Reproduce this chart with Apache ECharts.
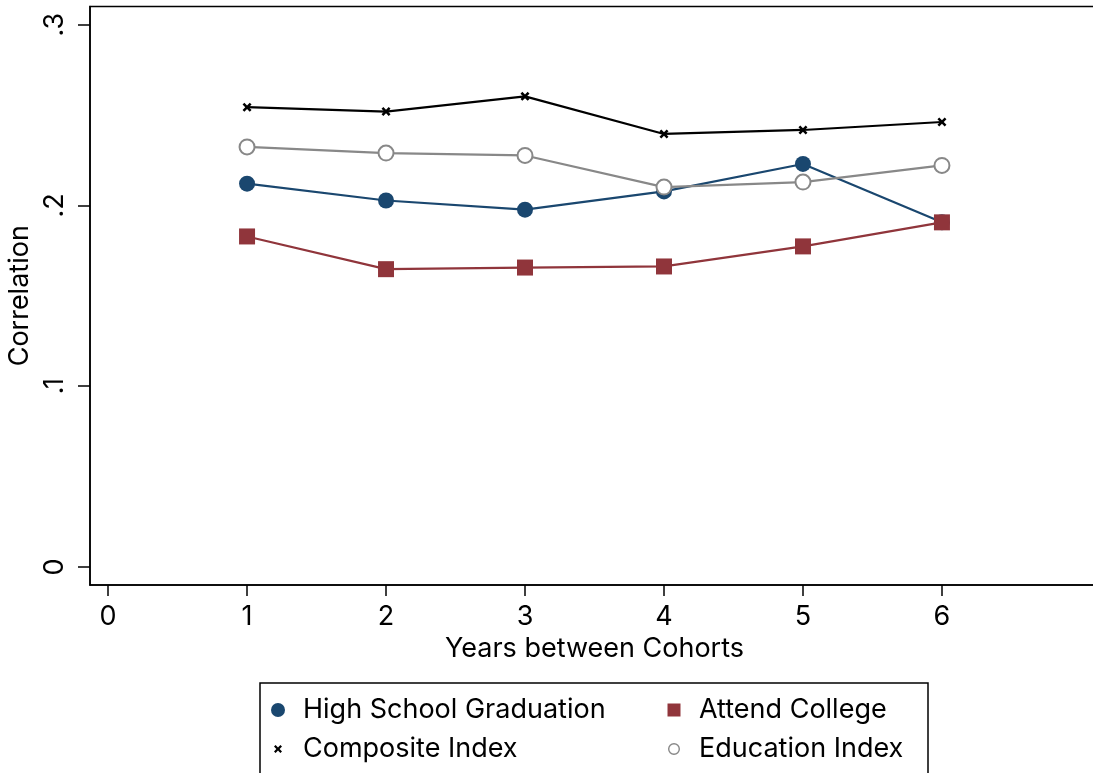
<!DOCTYPE html>
<html>
<head>
<meta charset="utf-8">
<script src="https://cdn.jsdelivr.net/npm/echarts@6/dist/echarts.min.js"></script>
<style>
  html, body { margin: 0; padding: 0; background: #fff; }
  #chart { width: 1093px; height: 773px; }
</style>
</head>
<body>
<div id="chart"></div>
<script>
// Years between cohorts
const years = [1, 2, 3, 4, 5, 6];
// Correlation by outcome
const highSchool = [0.2120, 0.2027, 0.1976, 0.2077, 0.2229, 0.1906];
const attendCollege = [0.1828, 0.1647, 0.1656, 0.1662, 0.1773, 0.1906];
const compositeIndex = [0.2543, 0.2519, 0.2603, 0.2395, 0.2417, 0.2461];
const educationIndex = [0.2323, 0.2289, 0.2276, 0.2101, 0.2129, 0.2221];
// Tick positions
const xTicks = [0, 1, 2, 3, 4, 5, 6];
const yTicks = [0, 0.1, 0.2, 0.3];
// Series names, in drawing order
const names = ['High School Graduation', 'Attend College', 'Composite Index', 'Education Index'];

const FONT = 'Inter, "Liberation Sans", Arial, sans-serif';
const FS = 27;
const NAVY = '#1a476f';
const MAROON = '#90353b';
const GRAY = '#888888';
const XMARK = 'path://M0,2L2,0L5,3L8,0L10,2L7,5L10,8L8,10L5,7L2,10L0,8L3,5Z';

// Legend key glyphs share a 27x14 box; the glyph sits in the left 14x14 square.
const KEY_BOX = 'M0,0L0,0M27,14L27,14';
const keyIcons = {
  dot: 'path://' + KEY_BOX + 'M14,7A7,7 0 1,1 14,6.99Z',
  square: 'path://' + KEY_BOX + 'M0.5,0.5L13.5,0.5L13.5,13.5L0.5,13.5Z',
  cross: 'path://' + KEY_BOX + 'M3,4.6L4.6,3L7,5.4L9.4,3L11,4.6L8.6,7L11,9.4L9.4,11L7,8.6L4.6,11L3,9.4L5.4,7Z',
  ring: 'path://' + KEY_BOX + 'M13,7A6,6 0 1,1 13,6.99ZM11.6,7A4.6,4.6 0 1,0 11.6,7.01Z'
};

const pairs = vals => years.map((x, i) => [x, vals[i]]);

function legendItem(name, icon, color, left, top) {
  return {
    left: left, top: top, orient: 'horizontal', padding: 0,
    itemWidth: 27, itemHeight: 14, itemGap: 0,
    selectedMode: false,
    textStyle: { fontFamily: FONT, fontSize: FS, color: '#000', lineHeight: 30 },
    data: [{ name: name, icon: icon, itemStyle: { color: color, borderWidth: 0 } }]
  };
}

const chart = echarts.init(document.getElementById('chart'), null, { renderer: 'canvas' });
chart.setOption({
  animation: false,
  backgroundColor: '#fff',
  grid: {
    left: 90, top: 6.5, right: -6, bottom: 188,
    show: true, borderColor: '#000', borderWidth: 1.5,
    outerBoundsMode: 'none'
  },
  xAxis: {
    type: 'value', min: -0.13, max: 7.13,
    name: 'Years between Cohorts', nameLocation: 'middle', nameGap: 48,
    nameTextStyle: { fontFamily: FONT, fontSize: FS, color: '#000' },
    axisLine: { show: true, onZero: false, lineStyle: { color: '#000', width: 1.5 } },
    axisTick: { show: true, length: 11, customValues: xTicks, lineStyle: { color: '#000', width: 1.5 } },
    axisLabel: { customValues: xTicks, margin: 18, fontFamily: FONT, fontSize: FS, color: '#000' },
    splitLine: { show: false }
  },
  yAxis: {
    type: 'value', min: -0.01, max: 0.31,
    name: 'Correlation', nameLocation: 'middle', nameGap: 49, nameRotate: 90,
    nameTextStyle: { fontFamily: FONT, fontSize: FS, color: '#000' },
    axisLine: { show: true, onZero: false, lineStyle: { color: '#000', width: 1.5 } },
    axisTick: { show: true, length: 12, customValues: yTicks, lineStyle: { color: '#000', width: 1.5 } },
    axisLabel: {
      customValues: yTicks, rotate: 90, margin: 22,
      fontFamily: FONT, fontSize: FS, color: '#000',
      formatter: v => (v === 0 ? '0' : String(v).replace(/^0/, ''))
    },
    splitLine: { show: false }
  },
  legend: [
    legendItem(names[0], keyIcons.dot, NAVY, 271, 695),
    legendItem(names[1], keyIcons.square, MAROON, 667, 695),
    legendItem(names[2], keyIcons.cross, '#000', 271, 734),
    legendItem(names[3], keyIcons.ring, GRAY, 667, 734)
  ],
  graphic: [
    {
      type: 'rect', silent: true, z: -1,
      shape: { x: 260, y: 683, width: 668, height: 140 },
      style: { fill: 'none', stroke: '#000', lineWidth: 1.5 }
    }
  ],
  series: [
    {
      name: names[0], type: 'line', data: pairs(highSchool),
      symbol: 'circle', symbolSize: 16,
      lineStyle: { color: NAVY, width: 2.2 },
      itemStyle: { color: NAVY },
      emphasis: { disabled: true }
    },
    {
      name: names[1], type: 'line', data: pairs(attendCollege),
      symbol: 'rect', symbolSize: 16,
      lineStyle: { color: MAROON, width: 2.2 },
      itemStyle: { color: MAROON },
      emphasis: { disabled: true }
    },
    {
      name: names[2], type: 'line', data: pairs(compositeIndex),
      symbol: XMARK, symbolSize: 9,
      lineStyle: { color: '#000', width: 2.2 },
      itemStyle: { color: '#000' },
      emphasis: { disabled: true }
    },
    {
      name: names[3], type: 'line', data: pairs(educationIndex),
      symbol: 'emptyCircle', symbolSize: 15,
      lineStyle: { color: GRAY, width: 2.2 },
      itemStyle: { color: GRAY, borderColor: GRAY, borderWidth: 2.2 },
      emphasis: { disabled: true }
    }
  ]
});
</script>
</body>
</html>
